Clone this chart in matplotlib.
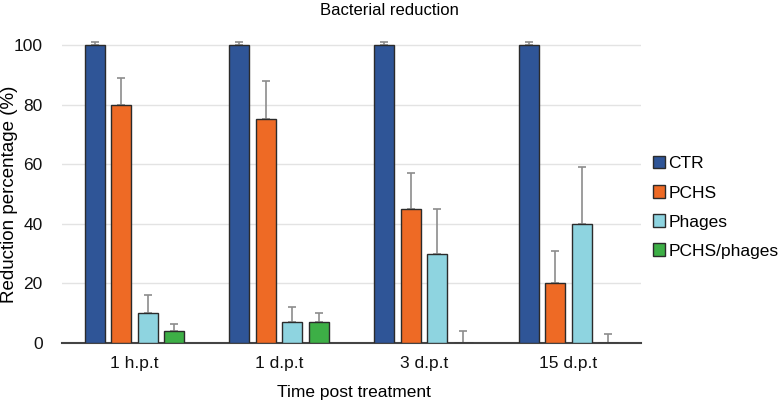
import numpy as np
import matplotlib.pyplot as plt

plt.rcParams['font.family'] = ['Liberation Sans', 'DejaVu Sans']

categories = ['1 h.p.t', '1 d.p.t', '3 d.p.t', '15 d.p.t']
series = ['CTR', 'PCHS', 'Phages', 'PCHS/phages']
ctr = [100, 100, 100, 100]
pchs = [80, 75, 45, 20]
phages = [10, 7, 30, 40]
pchs_phages = [4, 7, 0, 0]
ctr_err = [1, 1, 1, 1]
pchs_err = [9, 13, 12, 11]
phages_err = [6, 5, 15, 19]
pchs_phages_err = [2.5, 3, 4, 3]

colors = ['#2F5597', '#EE6A25', '#8ED4E0', '#3DAF46']
values = [ctr, pchs, phages, pchs_phages]
errors = [ctr_err, pchs_err, phages_err, pchs_phages_err]

fig = plt.figure(figsize=(7.78, 4.05), dpi=100)
ax = fig.add_axes([0.0797, 0.153, 0.744, 0.773])

x = np.arange(len(categories))
width = 0.138
pitch = 0.183
for i, (vals, errs) in enumerate(zip(values, errors)):
    pos = x + (i - 1.5) * pitch
    ax.bar(pos, vals, width, color=colors[i], edgecolor='#2b2b2b', linewidth=1.0,
           label=series[i], zorder=3)
    ax.errorbar(pos, vals, yerr=[np.zeros(len(errs)), errs], fmt='none',
                ecolor='#8c8c8c', elinewidth=1.2, capsize=3, capthick=1.2, zorder=2)

ax.set_xlim(-0.5, 3.5)
ax.set_ylim(0, 105)
ax.set_yticks([0, 20, 40, 60, 80, 100])
ax.set_xticks(x)
ax.set_xticklabels(categories)
ax.tick_params(axis='both', length=0, labelsize=12.5, colors='#111111')
ax.tick_params(axis='x', pad=9)
ax.tick_params(axis='y', pad=14)
ax.grid(axis='y', color='#e3e3e3', linewidth=1.0, zorder=0)
for s in ['left', 'top', 'right']:
    ax.spines[s].set_visible(False)
ax.spines['bottom'].set_color('#444444')
ax.spines['bottom'].set_linewidth(1.5)

fig.text(0.012, 0.153 + 0.773 * 100 / 105 / 2, 'Reduction percentage (%)', rotation=90,
         ha='center', va='center', fontsize=13.5)
fig.text(0.455, 0.03, 'Time post treatment', ha='center', va='center', fontsize=12.5)
fig.text(0.5, 0.975, 'Bacterial reduction', ha='center', va='center', fontsize=12)

leg = ax.legend(loc='center left', bbox_to_anchor=(1.0, 0.433), frameon=False,
                fontsize=12.5, handlelength=0.7, handleheight=0.7, handletextpad=0.2,
                labelspacing=0.8, borderaxespad=0.3)

fig.savefig('out.png', dpi=100)
